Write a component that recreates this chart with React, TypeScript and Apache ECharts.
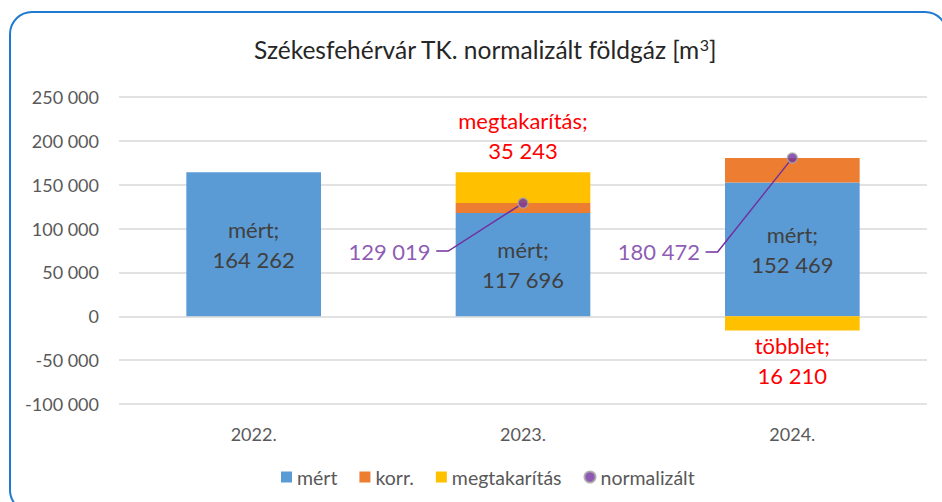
import React, { useEffect, useRef } from "react";
import * as echarts from "echarts";

const categories = ["2022.", "2023.", "2024."];
const mertValues = [164262, 117696, 152469];
const korrValues = [null, 11323, 28003];
const savingValues = [null, 35243, -16210];
const savingNames = ["", "megtakarítás", "többlet"];
const normalizedValues = [null, 129019, 180472];
const yTicks = { min: -100000, max: 250000, interval: 50000 };

const FONT = "Lato";

function fmt(v: number): string {
  const s = Math.abs(Math.round(v)).toString().replace(/\B(?=(\d{3})+(?!\d))/g, " ");
  return (v < 0 ? "-" : "") + s;
}

export default function App() {
  const ref = useRef<HTMLDivElement>(null);
  useEffect(() => {
    if (!ref.current) return;
    const chart = echarts.init(ref.current, undefined, { renderer: "svg" });
    const option: any = {
      animation: false,
      backgroundColor: "#ffffff",
      textStyle: { fontFamily: FONT },
      title: {
        text: "Székesfehérvár TK. normalizált földgáz [m{sup|3}]",
        left: 480,
        textAlign: "center",
        top: 31,
        textStyle: {
          fontFamily: FONT,
          fontSize: 24.5,
          fontWeight: "normal",
          color: "#262626",
          rich: {
            sup: { fontSize: 16, fontFamily: FONT, color: "#262626", padding: [0, 0, 10, 0] },
          },
        },
      },
      graphic: [
        {
          type: "rect",
          shape: { x: 10, y: 12, width: 937, height: 500, r: 22 },
          style: { fill: "none", stroke: "#1f7ad0", lineWidth: 2 },
          silent: true,
          z: 100,
        },
      ],
      legend: {
        left: 276,
        top: 462,
        itemWidth: 11,
        itemHeight: 11,
        itemGap: 22,
        textStyle: { fontFamily: FONT, fontSize: 19.5, color: "#595959" },
        data: [
          { name: "mért", icon: "rect" },
          { name: "korr.", icon: "rect" },
          { name: "megtakarítás", icon: "rect" },
          { name: "normalizált", icon: "circle" },
        ],
      },
      grid: { left: 119, right: 15, top: 97, bottom: 98 },
      xAxis: {
        type: "category",
        data: categories,
        axisLine: { show: false, onZero: false },
        axisTick: { show: false },
        axisLabel: { margin: 21, fontFamily: FONT, fontSize: 18, color: "#595959" },
      },
      yAxis: {
        type: "value",
        min: yTicks.min,
        max: yTicks.max,
        interval: yTicks.interval,
        axisLine: { show: false },
        axisTick: { show: false },
        splitLine: { lineStyle: { color: "#d9d9d9", width: 1.5 } },
        axisLabel: {
          margin: 20,
          fontFamily: FONT,
          fontSize: 18,
          color: "#595959",
          formatter: (v: number) => fmt(v),
        },
      },
      series: [
        {
          name: "mért",
          type: "bar",
          stack: "total",
          barCategoryGap: "50%",
          data: mertValues,
          itemStyle: { color: "#5b9bd5" },
          label: {
            show: true,
            position: "inside",
            fontFamily: FONT,
            fontSize: 22,
            lineHeight: 30,
            color: "#404040",
            formatter: (p: any) => "mért;\n" + fmt(p.value),
          },
        },
        {
          name: "korr.",
          type: "bar",
          stack: "total",
          data: korrValues,
          itemStyle: { color: "#ed7d31" },
        },
        {
          name: "megtakarítás",
          type: "bar",
          stack: "total",
          data: savingValues.map((v) =>
            v == null
              ? null
              : {
                  value: v,
                  label: { position: v >= 0 ? "top" : "bottom", distance: v >= 0 ? 7 : 0 },
                }
          ),
          itemStyle: { color: "#ffc000" },
          label: {
            show: true,
            fontFamily: FONT,
            fontSize: 22,
            lineHeight: 30,
            color: "#ff0000",
            formatter: (p: any) => savingNames[p.dataIndex] + ";\n" + fmt(Math.abs(p.value)),
          },
        },
        {
          name: "normalizált",
          type: "scatter",
          data: normalizedValues,
          symbol: "circle",
          symbolSize: 10,
          z: 5,
          itemStyle: { color: "#7030a0", borderColor: "#a6a6a6", borderWidth: 1.5 },
          label: {
            show: true,
            position: "left",
            distance: 5,
            fontFamily: FONT,
            fontSize: 22,
            color: "#7030a0",
            formatter: (p: any) => fmt(p.value) + "\u00a0",
          },
          labelLine: { show: true, length2: 12, lineStyle: { color: "#7030a0", width: 1.5 } },
          labelLayout: (params: any) => {
            const dyList = [0, 48, 94];
            return { dx: -76, dy: dyList[params.dataIndex] };
          },
        },
      ],
    };
    chart.setOption(option);
    return () => chart.dispose();
  }, []);
  return (
    <div
      ref={ref}
      style={{ position: "absolute", left: 0, top: 0, width: 942, height: 502 }}
    />
  );
}
